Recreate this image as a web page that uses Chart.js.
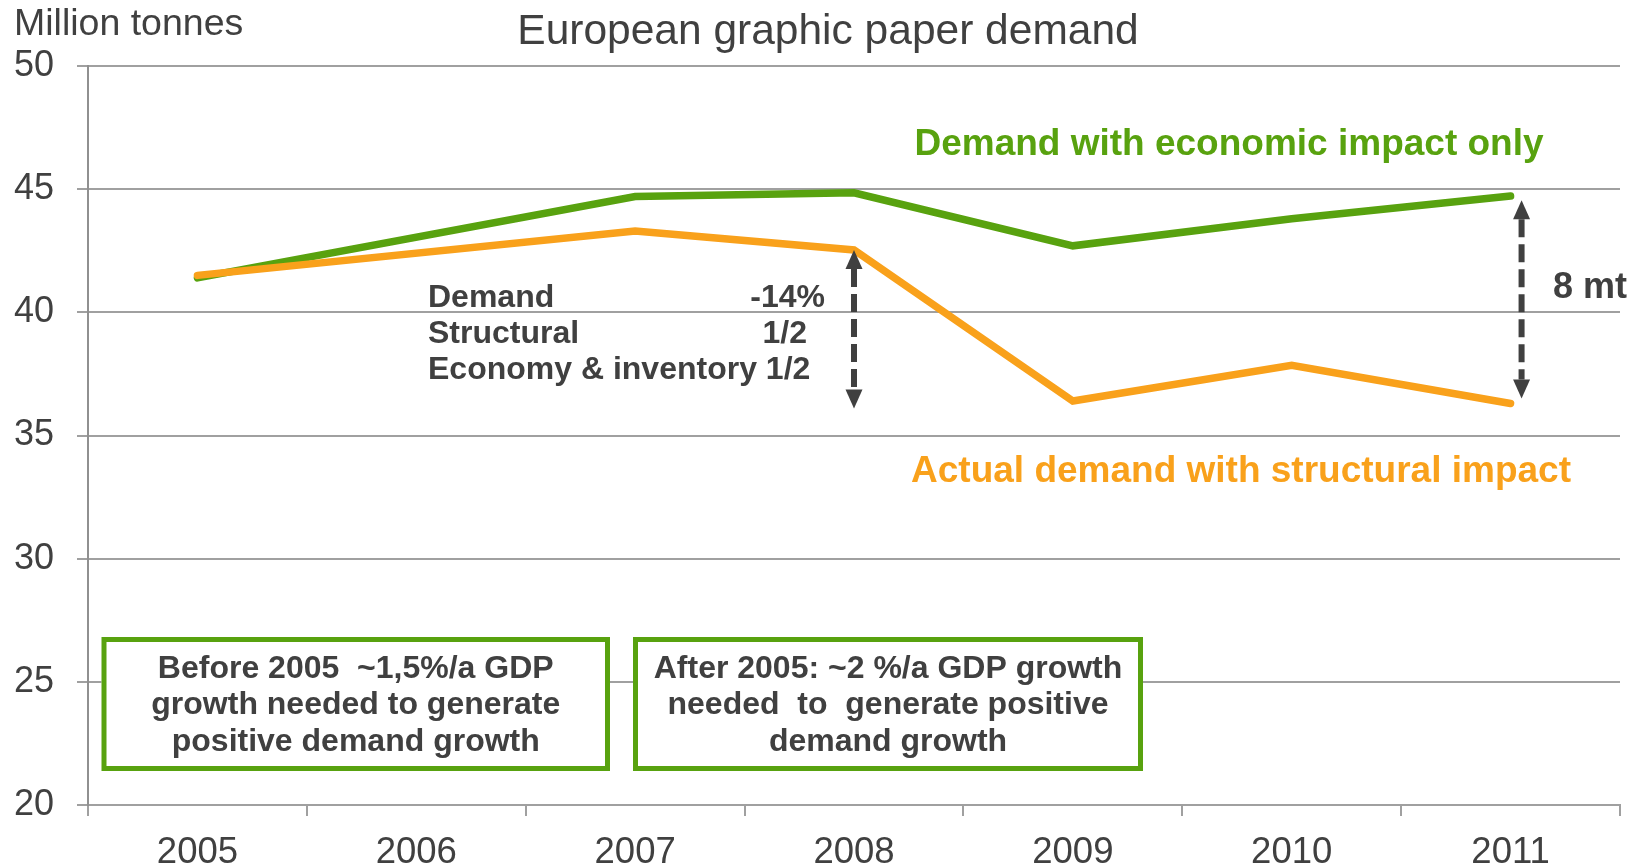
<!DOCTYPE html>
<html lang="en">
<head>
    <meta charset="UTF-8">
    <title>European graphic paper demand</title>
    <script src="https://cdn.jsdelivr.net/npm/chart.js"></script>
    <style>
        body { margin: 0; background: #fff; }
    </style>
</head>
<body>
    <canvas id="paperChart" width="1641" height="867"></canvas>

    <script>
        // Million tonnes per year; 2006 has no figure, the line spans the gap
        const years = ['2005', '2006', '2007', '2008', '2009', '2010', '2011'];
        const actualDemand = [41.5, null, 43.3, 42.53, 36.4, 37.85, 36.3];
        const economicOnly = [41.4, null, 44.7, 44.85, 42.7, 43.8, 44.72];
        const yTicks = [20, 25, 30, 35, 40, 45, 50];

        const GREEN = '#58a20f';
        const ORANGE = '#f9a11b';
        const DARK = '#404040';
        const FONT = '"Liberation Sans", Arial, sans-serif';

        // gap arrows: [year, from value, to value, pixel nudge]
        const gapArrows = [
            ['2008', 42.53, 36.1, 0],
            ['2011', 44.55, 36.5, 11]
        ];

        function drawArrow(ctx, x, yTop, yBottom) {
            const head = 19, half = 8.5;
            ctx.save();
            ctx.strokeStyle = DARK;
            ctx.fillStyle = DARK;
            ctx.lineWidth = 6;
            ctx.setLineDash([18, 7]);
            ctx.beginPath();
            ctx.moveTo(x, yTop + head);
            ctx.lineTo(x, yBottom - head);
            ctx.stroke();
            ctx.setLineDash([]);
            ctx.beginPath();
            ctx.moveTo(x, yTop);
            ctx.lineTo(x - half, yTop + head);
            ctx.lineTo(x + half, yTop + head);
            ctx.closePath();
            ctx.fill();
            ctx.beginPath();
            ctx.moveTo(x, yBottom);
            ctx.lineTo(x - half, yBottom - head);
            ctx.lineTo(x + half, yBottom - head);
            ctx.closePath();
            ctx.fill();
            ctx.restore();
        }

        function drawBox(ctx, x, y, w, h, lines) {
            ctx.save();
            ctx.fillStyle = '#fff';
            ctx.fillRect(x, y, w, h);
            ctx.strokeStyle = GREEN;
            ctx.lineWidth = 5;
            ctx.strokeRect(x + 2.5, y + 2.5, w - 5, h - 5);
            ctx.fillStyle = DARK;
            ctx.font = 'bold 32px ' + FONT;
            ctx.textAlign = 'center';
            ctx.textBaseline = 'alphabetic';
            lines.forEach((line, i) => ctx.fillText(line, x + w / 2, y + 40.5 + i * 36.5));
            ctx.restore();
        }

        const annotations = {
            id: 'annotations',
            afterDatasetsDraw(chart) {
                const ctx = chart.ctx;
                const xs = chart.scales.x, ys = chart.scales.y;

                ctx.save();
                ctx.fillStyle = DARK;
                ctx.font = '37.5px ' + FONT;
                ctx.textAlign = 'left';
                ctx.fillText('Million tonnes', 14, 35);
                ctx.font = '42.5px ' + FONT;
                ctx.textAlign = 'center';
                ctx.fillText('European graphic paper demand', 828, 44);

                ctx.font = 'bold 37px ' + FONT;
                ctx.fillStyle = GREEN;
                ctx.fillText('Demand with economic impact only', 1229, 155);
                ctx.fillStyle = ORANGE;
                ctx.fillText('Actual demand with structural impact', 1241, 482);

                ctx.fillStyle = DARK;
                ctx.textAlign = 'left';
                ctx.font = 'bold 36px ' + FONT;
                ctx.fillText('8 mt', 1553, 298);

                ctx.font = 'bold 32px ' + FONT;
                ctx.fillText('Demand', 428, 307);
                ctx.fillText('Structural', 428, 343);
                ctx.fillText('Economy & inventory 1/2', 428, 379);
                ctx.textAlign = 'right';
                ctx.fillText('-14%', 825, 307);
                ctx.fillText('1/2', 807, 343);
                ctx.restore();

                gapArrows.forEach(([year, top, bottom, nudge]) => {
                    const x = xs.getPixelForValue(year) + nudge;
                    drawArrow(ctx, x, ys.getPixelForValue(top), ys.getPixelForValue(bottom));
                });

                drawBox(ctx, 101.5, 637, 508.5, 134, [
                    'Before 2005  ~1,5%/a GDP',
                    'growth needed to generate',
                    'positive demand growth'
                ]);
                drawBox(ctx, 633, 637, 510, 134, [
                    'After 2005: ~2 %/a GDP growth',
                    'needed  to  generate positive',
                    'demand growth'
                ]);
            }
        };

        new Chart(document.getElementById('paperChart'), {
            type: 'line',
            data: {
                labels: years,
                datasets: [
                    {
                        label: 'Actual demand with structural impact',
                        data: actualDemand,
                        borderColor: ORANGE,
                        borderWidth: 7.5,
                        borderCapStyle: 'round',
                        pointRadius: 0,
                        spanGaps: true,
                        tension: 0
                    },
                    {
                        label: 'Demand with economic impact only',
                        data: economicOnly,
                        borderColor: GREEN,
                        borderWidth: 7.5,
                        borderCapStyle: 'round',
                        pointRadius: 0,
                        spanGaps: true,
                        tension: 0
                    }
                ]
            },
            options: {
                responsive: false,
                animation: false,
                layout: { padding: { top: 66, right: 21, left: 0, bottom: 0 } },
                plugins: {
                    legend: { display: false },
                    tooltip: { enabled: false }
                },
                scales: {
                    x: {
                        offset: true,
                        grid: {
                            offset: true,
                            drawOnChartArea: false,
                            drawTicks: true,
                            tickLength: 11,
                            color: '#a0a0a0',
                            lineWidth: 2
                        },
                        border: { color: '#a0a0a0', width: 2 },
                        ticks: {
                            color: DARK,
                            padding: 15,
                            font: { family: FONT, size: 36.5 }
                        },
                        afterFit: scale => { scale.height = 62; }
                    },
                    y: {
                        min: 20,
                        max: 50,
                        afterBuildTicks: scale => { scale.ticks = yTicks.map(v => ({ value: v })); },
                        grid: {
                            color: '#a0a0a0',
                            lineWidth: 2,
                            tickLength: 11
                        },
                        border: { color: '#909090', width: 2 },
                        ticks: {
                            color: DARK,
                            padding: 23,
                            font: { family: FONT, size: 36 }
                        },
                        afterFit: scale => { scale.width = 88; }
                    }
                }
            },
            plugins: [annotations]
        });
    </script>
</body>
</html>
